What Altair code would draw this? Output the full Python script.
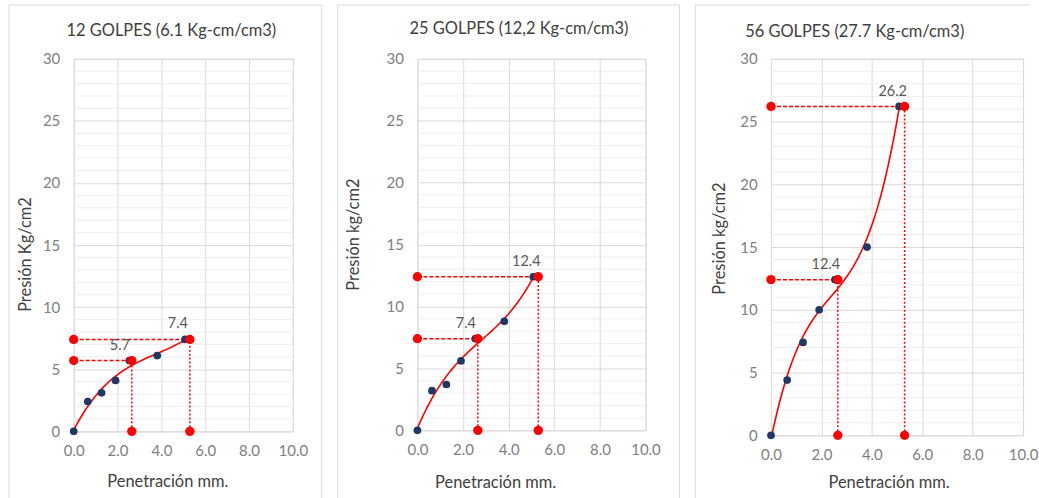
import altair as alt
import pandas as pd

# ---- data ----
pen = [0.0, 0.64, 1.27, 1.91, 2.54, 3.81, 5.08]
pres_12 = [0.0, 2.4, 3.1, 4.1, 5.7, 6.1, 7.4]
pres_25 = [0.0, 3.2, 3.7, 5.6, 7.4, 8.8, 12.4]
pres_56 = [0.0, 4.4, 7.4, 10.0, 12.4, 15.0, 26.2]

ref_pen = [2.65, 5.3]
ref_12 = [5.7, 7.4]
ref_25 = [7.4, 12.4]
ref_56 = [12.4, 26.2]

titles = ["12 GOLPES (6.1 Kg-cm/cm3)", "25 GOLPES (12,2 Kg-cm/cm3)", "56 GOLPES (27.7 Kg-cm/cm3)"]
y_titles = ["Presión Kg/cm2", "Presión  kg/cm2", "Presión kg/cm2"]
x_title = "Penetración mm."
x_ticks = [0, 2, 4, 6, 8, 10]
y_ticks = [0, 5, 10, 15, 20, 25, 30]
y_minor = [v for v in range(1, 30) if v % 5 != 0]

FONT = "Lato"
DARK = "#404040"
GRAY = "#808080"
RED = "#ff0000"
NAVY = "#1f3864"
BORDER = "#d9d9d9"


def panel(title, title_pos, ytitle, pres, ref_y, w, h, box, xt, yt, right_edge=True):
    pts = pd.DataFrame({"x": pen, "y": pres})
    refs = pd.DataFrame({"x": ref_pen, "y": ref_y, "x0": [0.0] * len(ref_pen), "y0": [0.0] * len(ref_pen)})
    dots = pd.DataFrame({
        "x": [0.0] * len(ref_pen) + ref_pen + ref_pen,
        "y": list(ref_y) + list(ref_y) + [0.0] * len(ref_pen),
    })
    labels = pd.DataFrame({"x": ref_pen, "y": ref_y, "t": [f"{v:.1f}" for v in ref_y]})
    minor = pd.DataFrame({"y": y_minor})
    one = pd.DataFrame({"k": [0]})

    xs = alt.Scale(domain=[0, 10], nice=False)
    ys = alt.Scale(domain=[0, 30], nice=False)
    xaxis = alt.Axis(values=x_ticks, format=".1f", grid=True, gridColor="#d9d9d9",
                     domain=False, ticks=False, tickSize=0, labelPadding=12, labelFlush=False,
                     labelOverlap=False,
                     labelFont=FONT, labelFontSize=15, labelColor=GRAY,
                     title=x_title, titleFont=FONT, titleFontSize=16.5, titleFontWeight="normal",
                     titleColor=DARK, titleX=xt[0], titleY=xt[1], titleBaseline="middle",
                     titleAlign="center")
    yaxis = alt.Axis(values=y_ticks, grid=True, gridColor="#d9d9d9",
                     domain=False, ticks=False, tickSize=0, labelPadding=14, labelFlush=False,
                     labelOverlap=False, labelBaseline="middle",
                     labelFont=FONT, labelFontSize=15, labelColor=GRAY,
                     title=ytitle, titleFont=FONT, titleFontSize=16.5, titleFontWeight="normal",
                     titleColor=DARK, titleX=yt[0], titleY=yt[1], titleBaseline="middle",
                     titleAlign="center")

    base = alt.Chart(pts)
    fb = alt.Chart(one)
    frame_layers = [
        fb.mark_rule(color=BORDER, strokeWidth=1).encode(
            x=alt.value(box[0]), x2=alt.value(box[1]), y=alt.value(box[2])),
        fb.mark_rule(color=BORDER, strokeWidth=1).encode(
            x=alt.value(box[0]), y=alt.value(box[2]), y2=alt.value(box[3])),
    ]
    if right_edge:
        frame_layers.append(fb.mark_rule(color=BORDER, strokeWidth=1).encode(
            x=alt.value(box[1]), y=alt.value(box[2]), y2=alt.value(box[3])))
    ttl = alt.Chart(pd.DataFrame({"t": [title]})).mark_text(
        font=FONT, fontSize=16.5, color=DARK, baseline="middle", align="center"
    ).encode(x=alt.value(title_pos[0]), y=alt.value(title_pos[1]), text="t:N")

    grid = base.mark_point(opacity=0).encode(
        x=alt.X("x:Q", scale=xs, axis=xaxis),
        y=alt.Y("y:Q", scale=ys, axis=yaxis),
    )
    minor_rules = alt.Chart(minor).mark_rule(color="#eeeeee", strokeWidth=1).encode(
        y="y:Q", x=alt.value(0), x2=alt.value(w))
    curve = base.transform_regression("x", "y", method="poly", order=3, extent=[0, 5.08]).mark_line(
        color=RED, strokeWidth=1.6
    ).encode(x="x:Q", y="y:Q")
    hrule = alt.Chart(refs).mark_rule(color=RED, strokeWidth=1.5, strokeDash=[4, 2]).encode(
        x="x0:Q", x2="x", y="y:Q")
    vrule = alt.Chart(refs).mark_rule(color=RED, strokeWidth=1.5, strokeDash=[2, 2]).encode(
        x="x:Q", y="y0:Q", y2="y")
    blue = base.mark_circle(color=NAVY, opacity=1, size=60).encode(x="x:Q", y="y:Q")
    red = alt.Chart(dots).mark_circle(color=RED, opacity=1, size=88).encode(x="x:Q", y="y:Q")
    txt = alt.Chart(labels).mark_text(font=FONT, fontSize=14.5, color="#595959", dx=-12, dy=-15,
                                      baseline="middle").encode(x="x:Q", y="y:Q", text="t:N")

    return alt.layer(*frame_layers, ttl, grid, minor_rules, curve, hrule, vrule, blue, red, txt).properties(
        width=w, height=h,
    )


p1 = panel(titles[0], (98, -28), y_titles[0], pres_12, ref_12, 220, 374,
           (-65, 249, -54, 452), (94, 50), (-48, 196))
p2 = panel(titles[1], (102, -30), y_titles[1], pres_25, ref_25, 229, 373,
           (-80, 263, -54, 453), (78, 52), (-64, 176))
p3 = panel(titles[2], (84, -27), y_titles[2], pres_56, ref_56, 253, 378,
           (-76, 260, -54, 458), (118, 47), (-52, 180), right_edge=False)

chart = alt.hconcat(p1, p2, p3, spacing=14).properties(
    padding={"left": 8, "top": 3, "right": 0, "bottom": 0}
).configure_view(stroke=None).configure(background="white")

chart.save("out.html", embed_options={"renderer": "svg", "actions": False})
